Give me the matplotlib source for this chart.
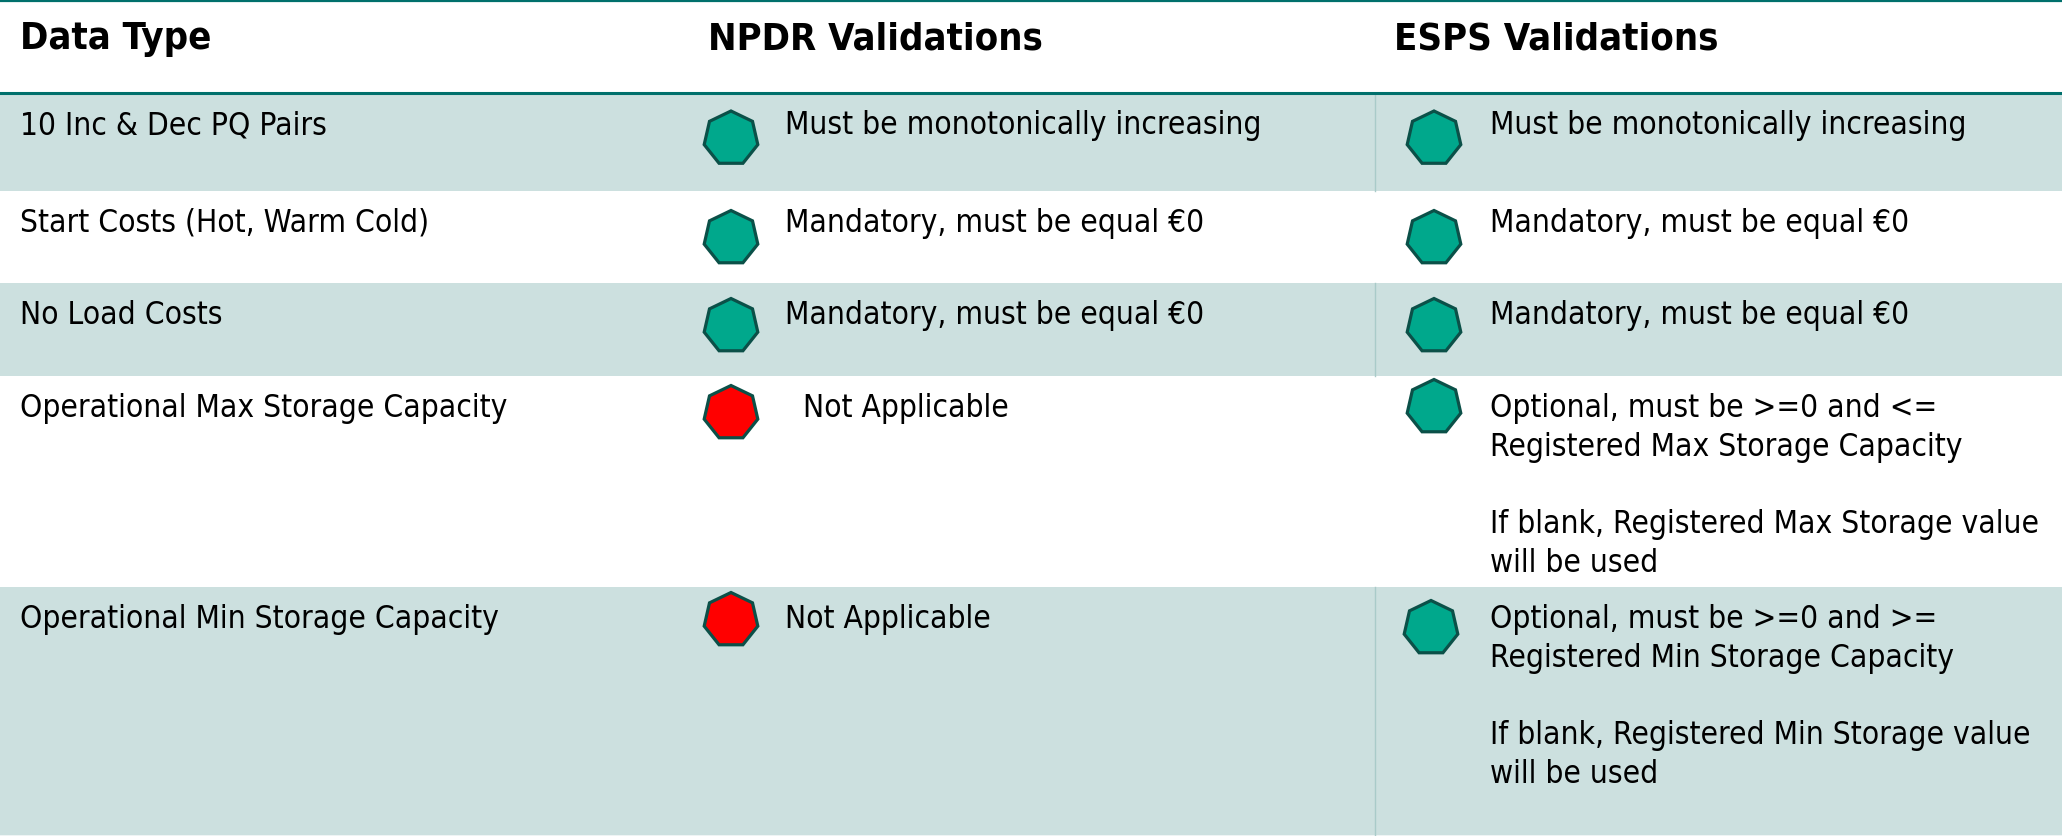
import matplotlib
matplotlib.use('Agg')
import matplotlib.pyplot as plt
from matplotlib.patches import RegularPolygon, Rectangle

# table content
headers = ['Data Type', 'NPDR Validations', 'ESPS Validations']
data_types = ['10 Inc & Dec PQ Pairs', 'Start Costs (Hot, Warm Cold)', 'No Load Costs',
              'Operational Max Storage Capacity', 'Operational Min Storage Capacity']
npdr_text = ['Must be monotonically increasing', 'Mandatory, must be equal €0',
             'Mandatory, must be equal €0', 'Not Applicable', 'Not Applicable']
esps_text = ['Must be monotonically increasing', 'Mandatory, must be equal €0',
             'Mandatory, must be equal €0',
             'Optional, must be >=0 and <=\nRegistered Max Storage Capacity\n\nIf blank, Registered Max Storage value\nwill be used',
             'Optional, must be >=0 and >=\nRegistered Min Storage Capacity\n\nIf blank, Registered Min Storage value\nwill be used']
npdr_status = ['ok', 'ok', 'ok', 'na', 'na']
esps_status = ['ok', 'ok', 'ok', 'ok', 'ok']

# layout in pixels
row_edges = [93, 191, 283, 376, 587, 835]
shaded = [True, False, True, False, True]
npdr_marker_x = [731, 731, 731, 731, 731]
npdr_marker_y = [138.5, 238, 326, 413, 620]
esps_marker_x = [1434, 1434, 1434, 1434, 1431]
esps_marker_y = [138.5, 238, 326, 407, 628]
npdr_text_x = [785, 785, 785, 803, 785]
text_y = [110, 208, 300, 393, 604]
colors = {'ok': '#00a88c', 'na': '#ff0000'}

plt.rcParams['font.family'] = ['DejaVu Sans']
FONT = {'family': 'DejaVu Sans', 'stretch': 'condensed'}

fig = plt.figure(figsize=(20.62, 8.36), dpi=100)
ax = fig.add_axes([0, 0, 1, 1])
ax.set_xlim(0, 2062)
ax.set_ylim(836, 0)
ax.axis('off')

for i in range(len(data_types)):
    if shaded[i]:
        ax.add_patch(Rectangle((0, row_edges[i]), 2062, row_edges[i + 1] - row_edges[i],
                               fc='#cce0df', ec='none', zorder=1))
        ax.plot([1375, 1375], [row_edges[i], row_edges[i + 1]], color='#a9cbc9', lw=1, zorder=2)

ax.plot([0, 2062], [0.8, 0.8], color='#00706c', lw=1.6, zorder=3)
ax.plot([0, 2062], [92.5, 92.5], color='#00706c', lw=2.2, zorder=3)
ax.plot([0, 2062], [835.5, 835.5], color='#a9cbc9', lw=1, zorder=3)

for x, h in zip([20, 708, 1394], headers):
    ax.text(x, 39, h, fontsize=27.4, fontweight='bold', va='center', ha='left', color='black', **FONT)

def marker(x, y, status):
    ax.add_patch(RegularPolygon((x, y), 7, radius=27.5, orientation=3.14159265,
                                fc=colors[status], ec='#0b5048', lw=2.3, zorder=4))

for i in range(len(data_types)):
    ax.text(20, text_y[i], data_types[i], fontsize=22.7, va='top', ha='left', color='black', **FONT)
    ax.text(npdr_text_x[i], text_y[i], npdr_text[i], fontsize=22.7, va='top', ha='left', color='black', **FONT)
    ax.text(1490, text_y[i], esps_text[i], fontsize=22.7, va='top', ha='left', color='black',
            linespacing=1.32, **FONT)
    marker(npdr_marker_x[i], npdr_marker_y[i], npdr_status[i])
    marker(esps_marker_x[i], esps_marker_y[i], esps_status[i])

fig.savefig('out.png', dpi=100)
